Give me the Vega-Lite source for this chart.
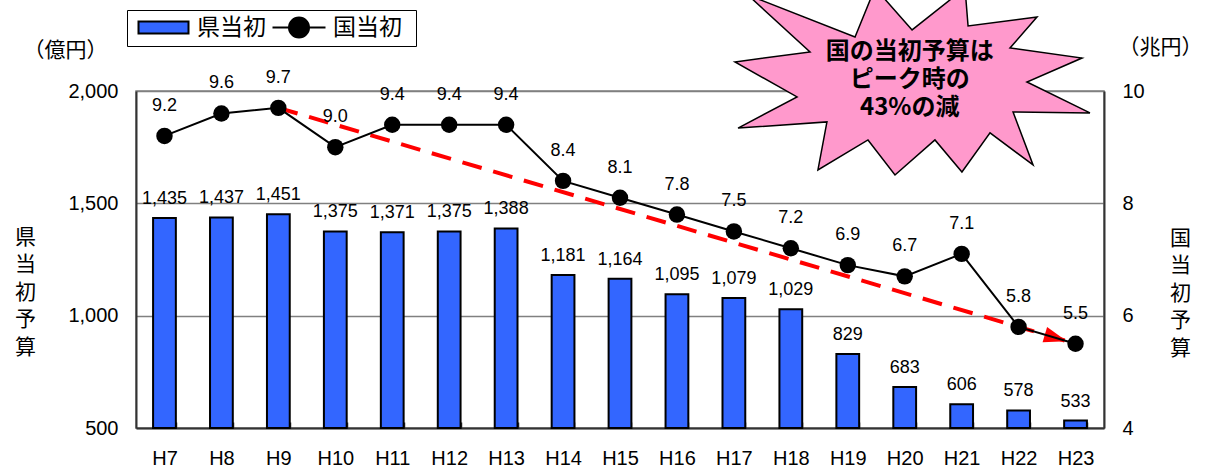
{
  "$schema": "https://vega.github.io/schema/vega-lite/v6.json",
  "width": 968,
  "height": 337,
  "autosize": {"type": "none"},
  "padding": {"left": 136, "top": 91, "right": 105, "bottom": 40},
  "config": {
    "view": {"stroke": "#808080", "strokeWidth": 1.5},
    "font": "Noto Sans CJK JP"
  },
  "data": {
    "values": [
      {"year": "H7", "ken": 1435, "kuni": 9.2},
      {"year": "H8", "ken": 1437, "kuni": 9.6},
      {"year": "H9", "ken": 1451, "kuni": 9.7},
      {"year": "H10", "ken": 1375, "kuni": 9.0},
      {"year": "H11", "ken": 1371, "kuni": 9.4},
      {"year": "H12", "ken": 1375, "kuni": 9.4},
      {"year": "H13", "ken": 1388, "kuni": 9.4},
      {"year": "H14", "ken": 1181, "kuni": 8.4},
      {"year": "H15", "ken": 1164, "kuni": 8.1},
      {"year": "H16", "ken": 1095, "kuni": 7.8},
      {"year": "H17", "ken": 1079, "kuni": 7.5},
      {"year": "H18", "ken": 1029, "kuni": 7.2},
      {"year": "H19", "ken": 829, "kuni": 6.9},
      {"year": "H20", "ken": 683, "kuni": 6.7},
      {"year": "H21", "ken": 606, "kuni": 7.1},
      {"year": "H22", "ken": 578, "kuni": 5.8},
      {"year": "H23", "ken": 533, "kuni": 5.5}
    ]
  },
  "encoding": {
    "x": {
      "field": "year",
      "type": "nominal",
      "sort": null,
      "scale": {"paddingInner": 0.6, "paddingOuter": 0.3},
      "axis": {
        "title": null,
        "labelAngle": 0,
        "tickBand": "extent",
        "tickSize": -6,
        "tickColor": "#333333",
        "tickWidth": 1.5,
        "domainColor": "#333333",
        "domainWidth": 2,
        "labelPadding": 26,
        "labelFont": "Liberation Sans",
        "labelFontSize": 20,
        "labelColor": "black"
      }
    }
  },
  "layer": [
    {
      "encoding": {
        "y": {
          "field": "ken",
          "type": "quantitative",
          "scale": {"domain": [500, 2000], "zero": false, "nice": false},
          "axis": {
            "values": [500, 1000, 1500, 2000],
            "format": ",.0f",
            "title": ["県", "当", "初", "予", "算"],
            "titleAngle": 0,
            "titleX": -111,
            "titleY": 146,
            "titleAlign": "center",
            "titleBaseline": "middle",
            "titleFont": "Noto Sans CJK JP",
            "titleFontSize": 21,
            "titleFontWeight": "normal",
            "titleLineHeight": 27.5,
            "titleColor": "black",
            "grid": true,
            "gridColor": "#808080",
            "gridWidth": 1.5,
            "ticks": false,
            "labelPadding": 18,
            "labelFont": "Liberation Sans",
            "labelFontSize": 20,
            "labelColor": "black",
            "domainColor": "#333333",
            "domainWidth": 2
          }
        }
      },
      "layer": [
        {
          "mark": {"type": "bar", "stroke": "black", "strokeWidth": 2},
          "encoding": {
            "y2": {"datum": 500},
            "fill": {
              "datum": "県当初",
              "scale": {"domain": ["県当初"], "range": ["#3366FF"]},
              "legend": {
                "orient": "none",
                "legendX": -9,
                "legendY": -81,
                "direction": "horizontal",
                "title": null,
                "symbolType": "M-1.2,-1.2H8.8V1.2H-1.2ZM52.3,0L52.3,0",
                "symbolSize": 100,
                "symbolStrokeColor": "black",
                "symbolStrokeWidth": 2,
                "symbolOpacity": 1,
                "labelFont": "Noto Sans CJK JP",
                "labelFontSize": 23,
                "labelColor": "black",
                "labelOffset": 41,
                "labelLimit": 600,
                "padding": 6,
                "strokeColor": "black"
              }
            }
          }
        },
        {
          "mark": {"type": "text", "baseline": "middle", "dy": -19, "font": "Liberation Sans", "fontSize": 18, "color": "black"},
          "encoding": {"text": {"field": "ken", "type": "quantitative", "format": ","}}
        },
        {
          "transform": [{"filter": "datum.year === 'H7'"}],
          "mark": {"type": "text", "text": "（億円）", "baseline": "middle", "align": "center", "dx": -99, "dy": -40, "font": "Noto Sans CJK JP", "fontSize": 21, "fontWeight": "normal", "color": "black"},
          "encoding": {"y": {"datum": 2000}}
        }
      ]
    },
    {
      "encoding": {
        "y": {
          "field": "kuni",
          "type": "quantitative",
          "scale": {"domain": [4, 10], "zero": false, "nice": false},
          "axis": {
            "values": [4, 6, 8, 10],
            "format": ".0f",
            "title": ["国", "当", "初", "予", "算"],
            "titleAngle": 0,
            "titleX": 76,
            "titleY": 147,
            "titleAlign": "center",
            "titleBaseline": "middle",
            "titleFont": "Noto Sans CJK JP",
            "titleFontSize": 21,
            "titleFontWeight": "normal",
            "titleLineHeight": 27.5,
            "titleColor": "black",
            "grid": false,
            "ticks": false,
            "labelPadding": 18,
            "labelFont": "Liberation Sans",
            "labelFontSize": 20,
            "labelColor": "black",
            "domainColor": "#333333",
            "domainWidth": 2
          }
        }
      },
      "layer": [
        {
          "transform": [{"filter": "datum.year === 'H9'"}],
          "mark": {"type": "rule", "color": "#FF0000", "strokeWidth": 4, "strokeDash": [20, 12]},
          "encoding": {
            "x2": {"datum": "H23"},
            "y2": {"datum": 5.5}
          }
        },
        {
          "transform": [{"filter": "datum.year === 'H23'"}],
          "mark": {"type": "point", "shape": "M-0.45,0L-1.6,-0.4L-1.6,0.4Z", "size": 1600, "angle": 16.5, "filled": true, "color": "#FF0000", "opacity": 1}
        },
        {
          "mark": {"type": "line", "strokeWidth": 2},
          "encoding": {
            "stroke": {
              "datum": "国当初",
              "scale": {"domain": ["国当初"], "range": ["black"]},
              "legend": {
                "orient": "none",
                "legendX": 131,
                "legendY": -75,
                "direction": "horizontal",
                "title": null,
                "symbolType": "M-1.2,0H9.4M6.1,0A2,2 0 1 1 2.1,0A2,2 0 1 1 6.1,0Z",
                "symbolSize": 100,
                "symbolFillColor": "black",
                "symbolStrokeColor": "black",
                "symbolStrokeWidth": 2,
                "symbolOpacity": 1,
                "labelFont": "Noto Sans CJK JP",
                "labelFontSize": 23,
                "labelColor": "black",
                "labelOffset": 43,
                "labelLimit": 600,
                "padding": 0
              }
            }
          }
        },
        {
          "mark": {"type": "point", "shape": "circle", "size": 270, "filled": true, "color": "black", "opacity": 1}
        },
        {
          "mark": {"type": "text", "baseline": "middle", "dy": -30, "font": "Liberation Sans", "fontSize": 18, "color": "black"},
          "encoding": {"text": {"field": "kuni", "type": "quantitative", "format": ".1f"}}
        },
        {
          "transform": [{"filter": "datum.year === 'H20'"}],
          "mark": {
            "type": "point",
            "shape": "M-0.943,-0.130L-0.526,-0.186L-0.871,-0.502L-0.276,-0.269L-0.165,-0.541L0.041,-0.308L0.335,-0.541L0.352,-0.330L0.735,-0.380L0.585,-0.208L0.985,-0.152L0.679,-0.019L1.029,0.153L0.602,0.148L0.713,0.442L0.474,0.264L0.318,0.481L0.168,0.303L-0.054,0.498L-0.204,0.303L-0.482,0.470L-0.432,0.203L-0.926,0.237L-0.598,0.064Z",
            "size": 129600,
            "filled": true,
            "fill": "#FF99CC",
            "stroke": "black",
            "strokeWidth": 1.5,
            "opacity": 1
          },
          "encoding": {"y": {"datum": 10.1}}
        },
        {
          "transform": [{"filter": "datum.year === 'H20'"}],
          "mark": {
            "type": "text",
            "text": ["国の当初予算は", "ピーク時の", "43%の減"],
            "align": "center",
            "baseline": "middle",
            "lineHeight": 28,
            "dx": 5,
            "dy": -33,
            "font": "Noto Sans CJK JP",
            "fontSize": 24,
            "fontWeight": "bold",
            "color": "black"
          },
          "encoding": {"y": {"datum": 10.1}}
        },
        {
          "transform": [{"filter": "datum.year === 'H23'"}],
          "mark": {"type": "text", "text": "（兆円）", "baseline": "middle", "align": "center", "dx": 85, "dy": -43, "font": "Noto Sans CJK JP", "fontSize": 21, "fontWeight": "normal", "color": "black"},
          "encoding": {"y": {"datum": 10}}
        }
      ]
    }
  ],
  "resolve": {"scale": {"y": "independent"}}
}
